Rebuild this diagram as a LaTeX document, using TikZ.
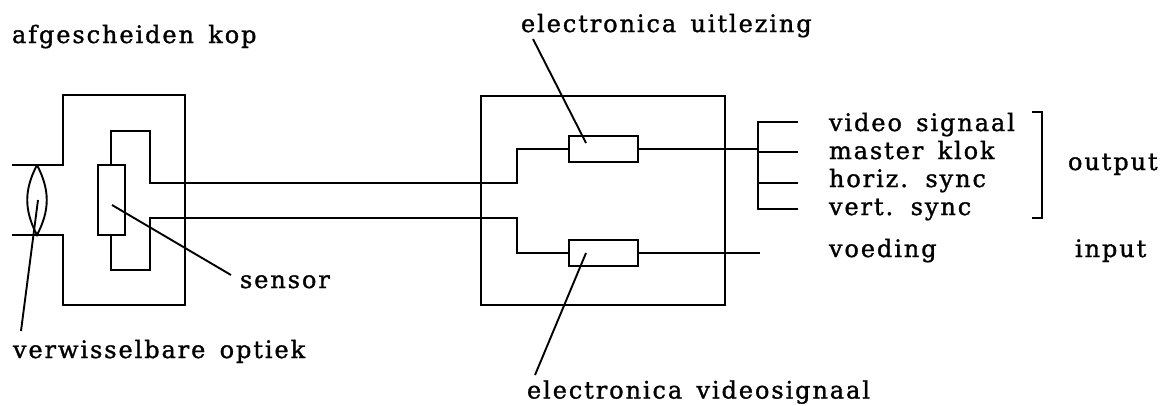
\documentclass[tikz,border=0pt]{standalone}
\usepackage{fontspec}
\setmainfont[WordSpace=1.5,LetterSpace=8,FakeBold=1.3]{DejaVu Serif}
\begin{document}
\begin{tikzpicture}[x=1pt,y=-1pt,
  wire/.style={line width=1.9pt,line join=miter},
  thinwire/.style={line width=1.3pt},
  box/.style={draw,line width=1.7pt,minimum width=#1,inner sep=0pt,outer sep=0pt},
  lbl/.style={anchor=base west,inner sep=0pt,outer sep=0pt,font=\fontsize{24}{24}\selectfont}]
\useasboundingbox (0,0) rectangle (1166,405);
% nodes
\node[box=27pt,minimum height=70pt] (sens) at (111.5,200) {};
\node[box=69pt,minimum height=26pt] (r1) at (603.5,149) {};
\node[box=69pt,minimum height=26pt] (r2) at (603.5,253) {};
\node[box=244pt,minimum height=209pt] (main) at (603,200.5) {};
\coordinate (hTL) at (63,95); \coordinate (hTR) at (185,95);
\coordinate (hBR) at (185,305); \coordinate (hBL) at (63,305);
\coordinate (lensT) at (37,165); \coordinate (lensB) at (37,235);
\coordinate (stubT) at (12,165); \coordinate (stubB) at (12,235);
\coordinate (innerA) at (111,165); \coordinate (innerB) at (111,131);
\coordinate (innerC) at (150,131); \coordinate (innerD) at (150,183);
\coordinate (innerE) at (150,218); \coordinate (innerF) at (150,270);
\coordinate (innerG) at (111,270); \coordinate (innerH) at (111,235);
\coordinate (j1) at (517,183); \coordinate (j2) at (517,149);
\coordinate (j3) at (517,218); \coordinate (j4) at (517,253);
\coordinate (busA) at (758,122); \coordinate (busB) at (758,149);
\coordinate (busC) at (758,183); \coordinate (busD) at (758,209);
\coordinate (outA) at (798,122); \coordinate (outB) at (798,152);
\coordinate (outC) at (798,183); \coordinate (outD) at (798,209);
\coordinate (busB2) at (758,152);
\coordinate (inEnd) at (760,253);
\coordinate (brA) at (1032,112); \coordinate (brB) at (1042,112);
\coordinate (brC) at (1042,218); \coordinate (brD) at (1032,218);
\coordinate (lL1) at (38,200); \coordinate (lL2) at (21,331);
\coordinate (lS1) at (112,205); \coordinate (lS2) at (231,275);
\coordinate (lU1) at (533,39); \coordinate (lU2) at (586,143);
\coordinate (lV1) at (586,253); \coordinate (lV2) at (535,375);
% head housing
\draw[wire] (stubT) -- (hTL |- stubT) -- (hTL) -- (hTR) -- (hBR) -- (hBL) -- (hBL |- stubB) -- (stubB);
% lens
\draw[wire] (lensT) .. controls (24,190) and (24,210) .. (lensB) .. controls (50,210) and (50,190) .. (lensT);
% inner connector and cables
\draw[wire] (innerA) -- (innerB) -- (innerC) -- (innerD) -- (j1) -- (j2) -- (r1.west);
\draw[wire] (innerH) -- (innerG) -- (innerF) -- (innerE) -- (j3) -- (j4) -- (r2.west);
% outputs
\draw[wire] (r1.east) -- (busB);
\draw[thinwire] (r2.east) -- (inEnd);
\draw[wire] (outA) -- (busA) -- (busD) -- (outD);
\draw[thinwire] (busB2) -- (outB);
\draw[wire] (busC) -- (outC);
% bracket
\draw[wire] (brA) -- (brB) -- (brC) -- (brD);
% leaders
\draw[wire] (lL1) -- (lL2);
\draw[wire] (lS1) -- (lS2);
\draw[wire] (lU1) -- (lU2);
\draw[wire] (lV1) -- (lV2);
% labels
\node[lbl] (t1) at (12,43) {afgescheiden kop};
\node[lbl] (t2) at (521,32) {electronica uitlezing};
\node[lbl] (t3) at (240,288) {sensor};
\node[lbl] (t4) at (13,358) {verwisselbare optiek};
\node[lbl] (t5) at (527,398.5) {electronica videosignaal};
\node[lbl] (t6) at (829,131) {video signaal};
\node[lbl] (t7) at (829,159) {master klok};
\node[lbl] (t8) at (829,187) {horiz. sync};
\node[lbl] (t9) at (829,215) {vert. sync};
\node[lbl] (t10) at (829,257) {voeding};
\node[lbl] (t11) at (1068,170) {output};
\node[lbl] (t12) at (1075,257) {input};
\end{tikzpicture}
\end{document}
